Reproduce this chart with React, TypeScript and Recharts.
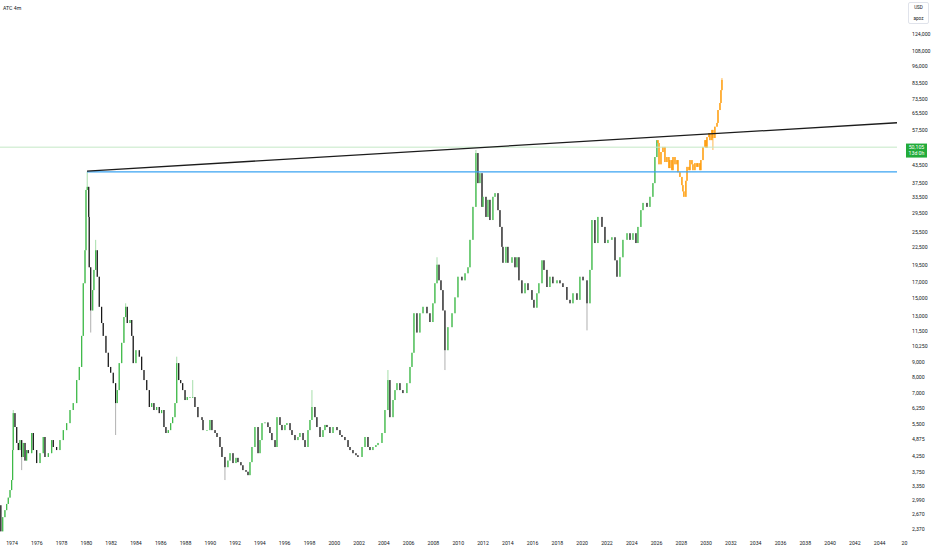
import { ComposedChart, Bar, XAxis, YAxis, ReferenceLine } from "recharts";

// closes; each candle opens at the previous close
const firstOpen = 2870;

const histYears = [
  1973.1, 1973.25, 1973.43, 1973.57, 1973.7, 1973.84, 1973.97, 1974.05, 1974.1, 1974.24, 1974.38, 1974.51,
  1974.64, 1974.78, 1974.91, 1975.05, 1975.18, 1975.31, 1975.59, 1975.72, 1975.99, 1976.26, 1976.52, 1976.66,
  1976.93, 1977.2, 1977.33, 1977.6, 1977.87, 1978.14, 1978.41, 1978.68, 1978.94, 1979.22, 1979.43, 1979.62,
  1979.75, 1979.89, 1979.97, 1980.07, 1980.19, 1980.23, 1980.35, 1980.51, 1980.61, 1980.75, 1980.88, 1981.04,
  1981.23, 1981.36, 1981.58, 1981.77, 1981.96, 1982.17, 1982.36, 1982.49, 1982.65, 1982.85, 1983.03, 1983.17,
  1983.3, 1983.52, 1983.66, 1983.78, 1984.0, 1984.27, 1984.46, 1984.65, 1984.87, 1985.08, 1985.27, 1985.45,
  1985.67, 1985.88, 1986.07, 1986.26, 1986.42, 1986.61, 1986.8, 1986.96, 1987.15, 1987.29, 1987.45, 1987.61,
  1987.77, 1987.96, 1988.14, 1988.36, 1988.58, 1988.76, 1989.0, 1989.33, 1989.41, 1989.73, 1989.97, 1990.13,
  1990.38, 1990.54, 1990.78, 1990.94, 1991.18, 1991.42, 1991.59, 1991.83, 1992.07, 1992.23, 1992.47, 1992.63,
  1992.88, 1993.04, 1993.2, 1993.36, 1993.6, 1993.85, 1994.01, 1994.17, 1994.41, 1994.65, 1994.81, 1994.97,
  1995.22, 1995.38, 1995.62, 1995.78, 1996.02, 1996.18, 1996.43, 1996.59, 1996.83, 1997.07, 1997.23, 1997.48,
  1997.64, 1997.88, 1998.04, 1998.2, 1998.44, 1998.6, 1998.85, 1999.09, 1999.25, 1999.41, 1999.65, 1999.9,
  2000.22, 2000.46, 2000.62, 2000.86, 2001.11, 2001.27, 2001.51, 2001.75, 2001.91, 2002.24, 2002.48, 2002.72,
  2002.88, 2003.12, 2003.36, 2003.53, 2003.85, 2004.09, 2004.33, 2004.49, 2004.74, 2004.9, 2005.06, 2005.3,
  2005.54, 2005.86, 2006.11, 2006.27, 2006.43, 2006.67, 2006.91, 2007.16, 2007.48, 2007.72, 2007.96, 2008.12,
  2008.29, 2008.45, 2008.61, 2008.77, 2008.93, 2009.17, 2009.5, 2009.74, 2009.98, 2010.3, 2010.55, 2010.79,
  2010.95, 2011.19, 2011.43, 2011.59, 2011.75, 2011.92, 2012.0, 2012.24, 2012.4, 2012.56, 2012.8, 2012.97,
  2013.21, 2013.37, 2013.53, 2013.61, 2013.85, 2014.01, 2014.34, 2014.58, 2014.74, 2014.9, 2015.14, 2015.39,
  2015.63, 2015.95, 2016.11, 2016.35, 2016.51, 2016.76, 2016.92, 2017.16, 2017.4, 2017.64, 2017.97, 2018.21,
  2018.45, 2018.77, 2019.02, 2019.26, 2019.58, 2019.82, 2020.07, 2020.39, 2020.63, 2020.79, 2021.03, 2021.27,
  2021.6, 2021.84, 2022.08, 2022.4, 2022.65, 2022.81, 2023.05, 2023.29, 2023.62, 2023.86, 2024.1, 2024.34,
  2024.5, 2024.74, 2024.91, 2025.23, 2025.47, 2025.71, 2025.87, 2026.03,
];

const histCloses = [
  2330, 2610, 2760, 2900, 3050, 3240, 3510, 4460, 5990, 5360, 4720, 4460,
  4830, 4220, 4720, 4100, 4460, 4350, 5110, 4460, 4020, 4350, 4950, 4220,
  4350, 4830, 4570, 4460, 4830, 5230, 5530, 6140, 6490, 7800, 8660, 11100,
  16900, 22000, 35600, 36500, 28700, 19200, 13600, 16000, 18800, 22000, 17800, 14000,
  12300, 11100, 9700, 8660, 8270, 7610, 6490, 7200, 8930, 10500, 12900, 14000,
  12300, 12600, 11100, 8930, 9900, 9400, 8450, 7800, 7200, 6290, 6490, 6140,
  6290, 5990, 6140, 5360, 5110, 5230, 5530, 5800, 6490, 8930, 7800, 7610,
  7200, 6650, 6810, 6810, 6810, 6290, 5800, 5670, 5230, 5230, 5670, 5230,
  5110, 4950, 4570, 4220, 3890, 4100, 4350, 4020, 4190, 4050, 3950, 3800,
  3750, 3650, 4050, 4570, 5360, 4350, 4830, 5530, 5560, 5360, 5110, 4830,
  4570, 5800, 5450, 5230, 5450, 5530, 5230, 5030, 4830, 4950, 5110, 4830,
  4570, 5230, 5670, 6290, 5800, 5360, 4950, 5230, 5450, 5360, 5110, 5360,
  5230, 5030, 4950, 4830, 4570, 4460, 4350, 4280, 4220, 4570, 4950, 4570,
  4460, 4570, 4640, 4720, 5110, 6140, 7800, 5800, 6650, 7200, 7610, 7200,
  7030, 7610, 8660, 9700, 13300, 11400, 13300, 14000, 13300, 12400, 14400, 16900,
  19600, 17300, 16000, 13600, 9900, 11900, 13300, 15100, 17800, 17300, 18300, 19200,
  23900, 31100, 47800, 37600, 40700, 31100, 33700, 28700, 32900, 28000, 33700, 34700,
  30300, 26500, 22600, 19900, 22600, 19900, 20800, 19200, 20800, 17300, 15600, 16900,
  16000, 14800, 13900, 15600, 16900, 20300, 18800, 16400, 17800, 16900, 17300, 16900,
  16400, 14800, 14400, 15600, 14800, 17800, 17300, 14400, 18800, 28000, 23300, 28700,
  26500, 23300, 23900, 24400, 20300, 17800, 20800, 23900, 25200, 23900, 25200, 23300,
  26500, 30300, 32100, 31100, 33700, 37600, 46300, 53000,
];

// orange projected path
const projYears = [
  2026.12, 2026.2, 2026.36, 2026.52, 2026.68, 2026.84, 2027.0, 2027.08, 2027.24, 2027.33, 2027.49, 2027.65,
  2027.73, 2027.89, 2028.05, 2028.13, 2028.21, 2028.37, 2028.46, 2028.62, 2028.7, 2028.86, 2028.94, 2029.1,
  2029.26, 2029.34, 2029.5, 2029.58, 2029.75, 2029.91, 2029.99, 2030.07, 2030.23, 2030.31, 2030.47, 2030.55,
  2030.71, 2030.88, 2030.96, 2031.12, 2031.2, 2031.28,
];

const projCloses = [
  51800, 43700, 48200, 50200, 44500, 46300, 42400, 45200, 41700, 46300, 43700, 45200,
  41000, 39500, 37000, 35200, 33700, 38300, 42800, 41700, 45200, 43700, 41700, 44100,
  42800, 44100, 41700, 45200, 50200, 53000, 49800, 54300, 56100, 53000, 57500, 53900,
  59000, 60800, 67400, 71300, 79000, 85700,
];

const upperWicks: [number, number][] = [
  [1974.1, 6140], [1980.07, 41200], [1980.75, 23900], [1983.17, 14400], [1987.29, 9400],
  [1988.58, 7800], [1998.2, 7200], [2004.33, 8450], [2008.29, 20800], [2011.43, 49000], [2031.28, 87000],
];
const lowerWicks: [number, number][] = [
  [1974.78, 3800], [1980.35, 11400], [1982.36, 5030], [1991.18, 3510], [2008.93, 8450],
  [2020.39, 11600], [2030.55, 49000],
];

const yearTicks = [
  1974, 1976, 1978, 1980, 1982, 1984, 1986, 1988, 1990, 1992, 1994, 1996, 1998, 2000, 2002, 2004, 2006,
  2008, 2010, 2012, 2014, 2016, 2018, 2020, 2022, 2024, 2026, 2028, 2030, 2032, 2034, 2036, 2038, 2040,
  2042, 2044, 2046,
];

const priceTicks = [
  2370, 2670, 2990, 3350, 3750, 4250, 4875, 5500, 6250, 7000, 8000, 9000, 10250, 11500, 13000, 15000,
  17000, 19500, 22500, 25500, 29500, 33500, 37500, 43500, 57500, 65500, 73500, 83500, 96000, 108000, 124000,
];

const lastPrice = 50105;
const countdown = "13d 0h";
const trendStart = { x: 1980.05, y: 41400 };
const trendEnd = { x: 2045.4, y: 60900 };
const supportLevel = 41100;

type Row = { t: number; open: number; close: number; range: [number, number]; proj: boolean };

function buildRows(): Row[] {
  const hi = new Map(upperWicks);
  const lo = new Map(lowerWicks);
  const rows: Row[] = [];
  let prev = firstOpen;
  const push = (t: number, c: number, proj: boolean) => {
    const top = Math.max(prev, c, hi.get(t) ?? 0);
    const bottom = Math.min(prev, c, lo.get(t) ?? Infinity);
    rows.push({ t, open: prev, close: c, range: [bottom, top], proj });
    prev = c;
  };
  histYears.forEach((t, i) => push(t, histCloses[i], false));
  projYears.forEach((t, i) => push(t, projCloses[i], true));
  return rows;
}

const rows = buildRows();

const FONT = "Roboto, 'Noto Sans', sans-serif";
const TEXT = "#131722";

// thin candle: wick over the whole range, body between open and close
const Candle = (props: any) => {
  const { x, y, width, height, payload } = props;
  if (!payload || isNaN(x) || isNaN(y) || isNaN(height)) return null;
  const top = Math.min(y, y + height);
  const h = Math.abs(height);
  const cx = x + (width || 0) / 2;
  const [lo, hi] = payload.range;
  const span = Math.log(hi) - Math.log(lo) || 1;
  const toPx = (v: number) => top + (h * (Math.log(hi) - Math.log(v))) / span;
  const bTop = toPx(Math.max(payload.open, payload.close));
  const bBot = toPx(Math.min(payload.open, payload.close));
  const up = payload.close >= payload.open;
  const body = payload.proj ? "#ff9800" : up ? "#3cb846" : "#161616";
  const wick = payload.proj ? "#ffa726" : up ? "#8fd694" : "#9c9c9c";
  return (
    <g>
      <line x1={cx} x2={cx} y1={top} y2={top + h} stroke={wick} strokeWidth={0.8} />
      <rect x={cx - 0.6} y={bTop} width={1.2} height={Math.max(bBot - bTop, 0.8)} fill={body} />
    </g>
  );
};

const PriceTag = (props: any) => {
  const { viewBox } = props;
  if (!viewBox) return null;
  const x = viewBox.x + viewBox.width + 9;
  const y = viewBox.y;
  return (
    <g fontFamily={FONT} fontSize={5.2} fill="#fff">
      <rect x={x} y={y - 3.6} width={21} height={14} fill="#22ab3a" />
      <text x={x + 10.5} y={y + 0.6} textAnchor="middle" dominantBaseline="middle">
        {lastPrice.toLocaleString("en-US")}
      </text>
      <text x={x + 10.5} y={y + 6.8} textAnchor="middle" dominantBaseline="middle">
        {countdown}
      </text>
    </g>
  );
};

export default function App() {
  return (
    <div style={{ position: "absolute", left: 0, top: 0, width: 932, height: 550, background: "#fff" }}>
      <ComposedChart width={932} height={550} data={rows} margin={{ top: 0, right: 0, bottom: 0, left: 0 }}>
        <XAxis
          dataKey="t"
          type="number"
          domain={[1973.03, 2045.4]}
          allowDataOverflow
          ticks={yearTicks}
          interval={0}
          tickFormatter={(v: number) => (v === 2046 ? "20" : String(v))}
          height={15}
          axisLine={false}
          tickLine={false}
          tickSize={0}
          tickMargin={6}
          tick={{ fontSize: 5.2, fill: TEXT, fontFamily: FONT }}
        />
        <YAxis
          orientation="right"
          scale="log"
          domain={[2263, 162300]}
          allowDataOverflow
          ticks={priceTicks}
          interval={0}
          tickFormatter={(v: number) => v.toLocaleString("en-US")}
          width={35}
          axisLine={false}
          tickLine={false}
          tickSize={0}
          tickMargin={15}
          tick={{ fontSize: 5.2, fill: TEXT, fontFamily: FONT, textAnchor: "start" }}
        />
        <ReferenceLine y={lastPrice} stroke="#c4e8c6" strokeWidth={1} ifOverflow="visible" label={<PriceTag />} />
        <ReferenceLine
          segment={[{ x: trendStart.x, y: supportLevel }, { x: trendEnd.x, y: supportLevel }]}
          stroke="#3aa3f2"
          strokeWidth={1.2}
          ifOverflow="visible"
        />
        <ReferenceLine segment={[trendStart, trendEnd]} stroke="#1c1c1c" strokeWidth={1.3} ifOverflow="visible" />
        <Bar dataKey="range" barSize={2} shape={<Candle />} isAnimationActive={false} />
      </ComposedChart>
      <div style={{ position: "absolute", left: 3, top: 5, fontFamily: FONT, fontSize: 5.2, color: TEXT }}>ATC 4m</div>
      <div
        style={{
          position: "absolute",
          left: 908,
          top: 2,
          width: 21,
          height: 22,
          border: "1px solid #e0e3eb",
          borderRadius: 2,
          boxSizing: "border-box",
          fontFamily: FONT,
          fontSize: 4.6,
          color: TEXT,
          textAlign: "center",
          lineHeight: "6px",
          paddingTop: 2,
        }}
      >
        <div>USD</div>
        <div style={{ marginTop: 5 }}>apoz</div>
      </div>
    </div>
  );
}
